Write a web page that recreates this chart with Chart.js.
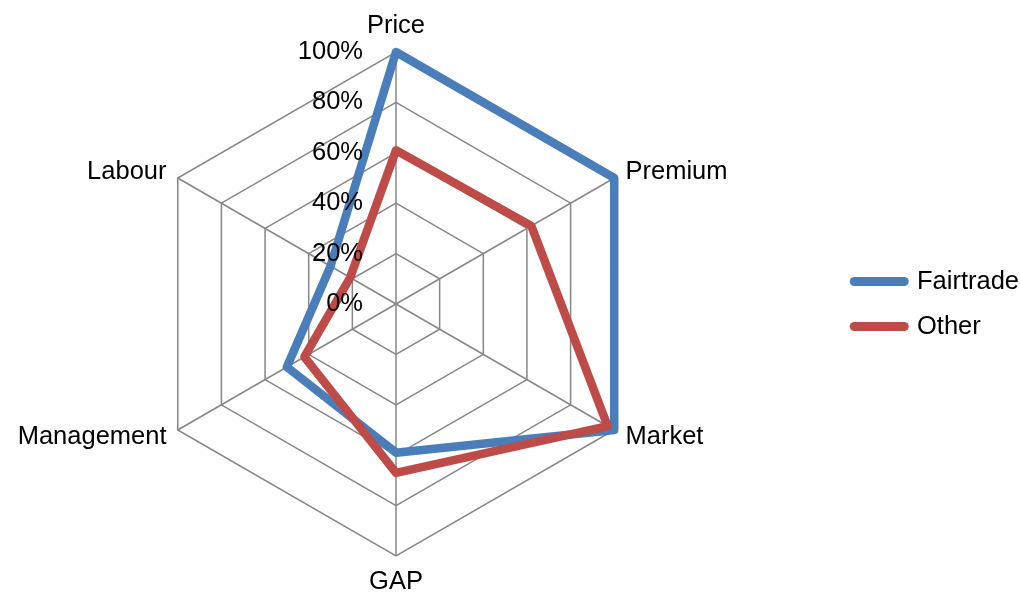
<!DOCTYPE html>
<html>
<head>
<meta charset="utf-8">
<script src="https://cdn.jsdelivr.net/npm/chart.js@4"></script>
<style>
html,body{margin:0;padding:0;background:#fff;overflow:hidden;width:1020px;height:593px;}
#wrap{width:1071px;height:593px;position:absolute;left:-42px;top:0;}
</style>
</head>
<body>
<div id="wrap"><canvas id="c"></canvas></div>
<script>
const categories = ['Price', 'Premium', 'Market', 'GAP', 'Management', 'Labour'];
const fairtradeValues = [100, 100, 100, 59, 50, 30];
const otherValues = [61, 62, 97, 67, 42, 21];
const tickValues = [0, 20, 40, 60, 80, 100];
const tickLabels = ['0%', '20%', '40%', '60%', '80%', '100%'];
const seriesNames = ['Fairtrade', 'Other'];
const seriesColors = ['#4a7ebb', '#be4b48'];

const FONT_FAMILY = '"Liberation Sans", Arial, sans-serif';
const FONT_SIZE = 25.5;

const excelLabels = {
  id: 'excelLabels',
  afterDatasetsDraw(chart) {
    const s = chart.scales.r;
    const ctx = chart.ctx;
    ctx.save();
    ctx.font = FONT_SIZE + 'px ' + FONT_FAMILY;
    ctx.fillStyle = '#000';
    ctx.textBaseline = 'middle';
    ctx.textAlign = 'right';
    tickValues.forEach((v, i) => {
      const d = s.getDistanceFromCenterForValue(v);
      ctx.fillText(tickLabels[i], s.xCenter - 33, s.yCenter - d);
    });
    const n = categories.length;
    categories.forEach((lab, i) => {
      const p = s.getPointPosition(i, s.drawingArea + 13);
      const ang = Math.round(i * 360 / n);
      let y = p.y;
      if (ang === 0) { ctx.textAlign = 'center'; y -= 13; }
      else if (ang === 180) { ctx.textAlign = 'center'; y += 13; }
      else if (ang < 180) { ctx.textAlign = 'left'; }
      else { ctx.textAlign = 'right'; }
      ctx.fillText(lab, p.x, y);
    });
    ctx.restore();
  }
};

new Chart(document.getElementById('c'), {
  type: 'radar',
  data: {
    labels: categories,
    datasets: [
      {
        label: seriesNames[0], data: fairtradeValues,
        borderColor: seriesColors[0], backgroundColor: 'transparent',
        borderWidth: 8.5, pointRadius: 0, pointHoverRadius: 0, fill: false,
        borderJoinStyle: 'round', order: 1
      },
      {
        label: seriesNames[1], data: otherValues,
        borderColor: seriesColors[1], backgroundColor: 'transparent',
        borderWidth: 8.5, pointRadius: 0, pointHoverRadius: 0, fill: false,
        borderJoinStyle: 'round', order: 0
      }
    ]
  },
  options: {
    responsive: true,
    maintainAspectRatio: false,
    animation: false,
    layout: { padding: { top: 52, bottom: 37, left: 0, right: 0 } },
    scales: {
      r: {
        min: 0, max: 100,
        ticks: { display: false, stepSize: 20 },
        pointLabels: { display: false },
        grid: { color: '#878787', lineWidth: 1.5 },
        angleLines: { color: '#878787', lineWidth: 1.5 }
      }
    },
    plugins: {
      tooltip: { enabled: false },
      legend: {
        position: 'right',
        align: 'center',
        labels: {
          usePointStyle: true,
          pointStyleWidth: 50,
          padding: 19.5,
          color: '#000',
          font: { family: FONT_FAMILY, size: FONT_SIZE },
          generateLabels: (chart) => chart.data.datasets.map((ds, i) => ({
            text: ds.label,
            fillStyle: ds.borderColor,
            strokeStyle: ds.borderColor,
            fontColor: '#000',
            lineWidth: 9,
            lineCap: 'round',
            pointStyle: 'line',
            hidden: false,
            datasetIndex: i
          }))
        }
      }
    }
  },
  plugins: [excelLabels]
});
</script>
</body>
</html>
